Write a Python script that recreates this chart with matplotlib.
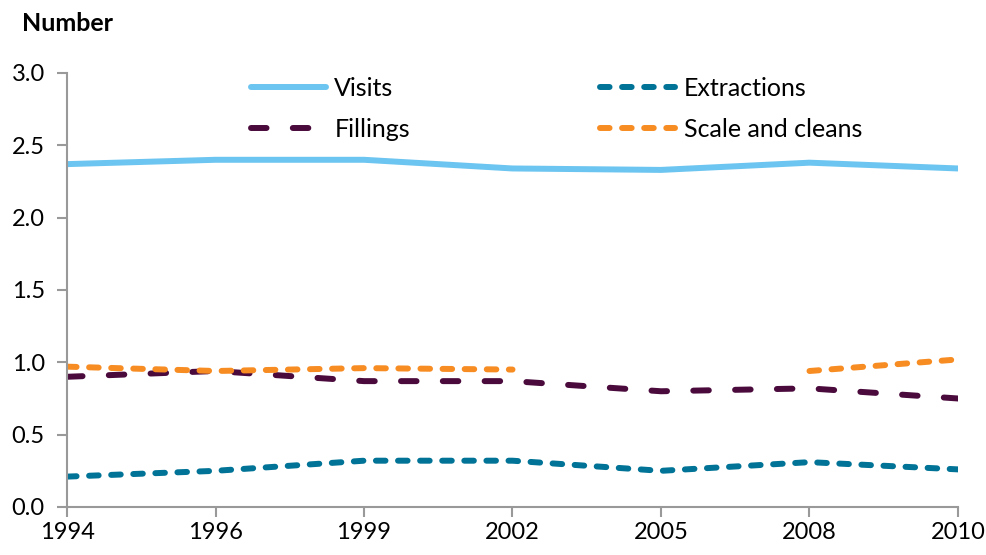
import numpy as np
import matplotlib.pyplot as plt

plt.rcParams['font.family'] = ['Lato', 'DejaVu Sans']

years = ['1994', '1996', '1999', '2002', '2005', '2008', '2010']
visits = [2.37, 2.40, 2.40, 2.34, 2.33, 2.38, 2.34]
extractions = [0.21, 0.25, 0.32, 0.32, 0.25, 0.31, 0.26]
fillings = [0.90, 0.94, 0.87, 0.87, 0.80, 0.82, 0.75]
scale_cleans = [0.97, 0.94, 0.96, 0.95, np.nan, 0.94, 1.02]

fig = plt.figure(figsize=(9.87, 5.55), dpi=100)
ax = fig.add_axes([0.0679, 0.0865, 0.9027, 0.782])

x = np.arange(len(years))
lw = 4.3
ax.plot(x, visits, color='#6CC5F0', lw=lw, solid_capstyle='round', label='Visits')
ax.plot(x, fillings, color='#4A0A3C', lw=lw, dashes=(2.6, 4.4), dash_capstyle='round', label='Fillings')
ax.plot(x, extractions, color='#007396', lw=lw, dashes=(1.6, 2.1), dash_capstyle='round', label='Extractions')
ax.plot(x, scale_cleans, color='#F78C22', lw=lw, dashes=(1.6, 2.1), dash_capstyle='round', label='Scale and cleans')

ax.set_xlim(0, len(years) - 1)
ax.set_ylim(0, 3.0)
ax.set_xticks(x)
ax.set_xticklabels(years)
ax.set_yticks(np.arange(0, 3.01, 0.5))
ax.set_yticklabels(['%.1f' % v for v in np.arange(0, 3.01, 0.5)])

for s in ['top', 'right']:
    ax.spines[s].set_visible(False)
for s in ['left', 'bottom']:
    ax.spines[s].set_color('#999999')
    ax.spines[s].set_linewidth(1.5)
ax.tick_params(axis='both', colors='#999999', width=1.5, length=7, labelsize=17, labelcolor='black')
ax.tick_params(axis='y', pad=9)
ax.tick_params(axis='x', pad=4)

fig.text(0.022, 0.944, 'Number', fontsize=18, fontweight='bold', ha='left', va='baseline')

leg = ax.legend(ncol=2, loc='upper left', bbox_to_anchor=(0.206, 0.991), frameon=False,
                borderaxespad=0, borderpad=0,
                fontsize=18, handlelength=3.0, handletextpad=0.35, columnspacing=7.6,
                labelspacing=0.72)

fig.savefig('out.png', dpi=100)
